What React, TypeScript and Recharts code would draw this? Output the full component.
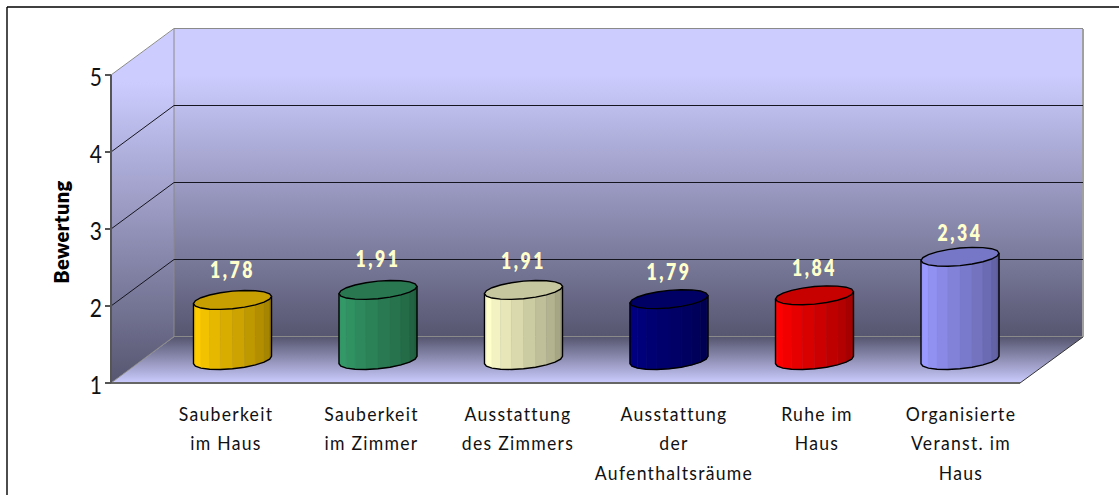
import React from "react";
import { BarChart, Bar, XAxis, YAxis, CartesianGrid, LabelList } from "recharts";

// Values
const CATEGORIES = [
  "Sauberkeit\nim Haus",
  "Sauberkeit\nim Zimmer",
  "Ausstattung\ndes Zimmers",
  "Ausstattung\nder\nAufenthaltsräume",
  "Ruhe im\nHaus",
  "Organisierte\nVeranst. im\nHaus",
];
const RATINGS = [1.78, 1.91, 1.91, 1.79, 1.84, 2.34];
const Y_TICKS = [1, 2, 3, 4, 5];

const BAR_COLORS = ["#ffcc00", "#339966", "#ffffcc", "#000080", "#ff0000", "#9999ff"];
const LABEL_LIFT = [30, 31, 29, 27, 27, 24];
// The original's wrapped labels are not evenly spaced
const TICK_NUDGE = [0, -1.5, -2, 7, 3, 0];

const chartData = CATEGORIES.map((name, i) => ({ name, rating: RATINGS[i] }));

const WIDTH = 1119;
const HEIGHT = 495;
const FONT = "Lato, sans-serif";
const PLOT = { left: 111, right: 1020, top: 75, bottom: 383 };
// Oblique projection of the chart's depth
const DEPTH = { dx: 63, dy: -46 };

function shade(hex: string, k: number): string {
  const n = parseInt(hex.slice(1), 16);
  const c = [(n >> 16) & 255, (n >> 8) & 255, n & 255].map((v) => Math.round(v * k));
  return `rgb(${c[0]},${c[1]},${c[2]})`;
}

/** Faceted cylinder, standing in the middle of the floor's depth */
function Cylinder(props: any) {
  const { x, y, width, height, index } = props;
  const color = BAR_COLORS[index];
  const cx = x + width / 2 + DEPTH.dx / 2;
  const topY = y + DEPTH.dy / 2;
  const baseY = topY + height;
  const B = 15;
  const C = 9.5;
  const A = Math.sqrt(Math.max(0, (width / 2) ** 2 - B * B));
  const t0 = Math.atan2(B, A);
  const at = (t: number, cy: number) => [
    cx + A * Math.cos(t) + B * Math.sin(t),
    cy - C * Math.sin(t),
  ];
  const STEPS = 10;
  const tAt = (i: number) => t0 + Math.PI + (i * Math.PI) / STEPS;

  const facets = [];
  const front: number[][] = [];
  for (let i = 0; i < STEPS; i++) {
    const a = tAt(i);
    const b = tAt(i + 1);
    const pts = [at(a, topY), at(b, topY), at(b, baseY), at(a, baseY)];
    // brightest just left of the middle of the lit side, then falling off
    const k = i < 2 ? 1 : 1 - (0.4 * (i - 1)) / (STEPS - 2);
    const fill = shade(color, k);
    facets.push(
      <polygon key={i} points={pts.map((p) => p.join(",")).join(" ")} fill={fill} stroke={fill} strokeWidth={0.5} />
    );
  }
  for (let i = 0; i <= STEPS; i++) front.push(at(tAt(i), baseY));
  const ring: number[][] = [];
  for (let i = 0; i < STEPS * 2; i++) ring.push(at(tAt(i), topY));
  const outline = [at(tAt(0), topY), ...front, at(tAt(STEPS), topY)];

  return (
    <g>
      {facets}
      <polyline
        points={outline.map((p) => p.join(",")).join(" ")}
        fill="none"
        stroke="#000"
        strokeWidth={1.4}
      />
      <polygon
        points={ring.map((p) => p.join(",")).join(" ")}
        fill={shade(color, 0.78)}
        stroke="#000"
        strokeWidth={1.4}
      />
    </g>
  );
}

// No narrow font installed, so the text is squeezed horizontally
function RatingLabel(props: any) {
  const { x, y, width, index, value } = props;
  const tx = x + width / 2 + DEPTH.dx / 2;
  const ty = y + DEPTH.dy / 2 - LABEL_LIFT[index];
  return (
    <text
      transform={`translate(${tx},${ty}) scale(0.8,1)`}
      dy="0.36em"
      textAnchor="middle"
      fontFamily={FONT}
      fontSize={22}
      fontWeight={800}
      letterSpacing={3.2}
      fill="#ffffcc"
    >
      {Number(value).toFixed(2).replace(".", ",")}
    </text>
  );
}

function CategoryTick(props: any) {
  const { x, index, payload } = props;
  const lines = String(payload.value).split("\n");
  return (
    <text
      transform={`translate(${x + TICK_NUDGE[index]},0) scale(0.88,1)`}
      textAnchor="middle"
      fontFamily={FONT}
      fontSize={20}
      letterSpacing={1.45}
      fill="#111"
    >
      {lines.map((line, i) => (
        <tspan key={i} x={0} y={421 + i * 29.5}>
          {line}
        </tspan>
      ))}
    </text>
  );
}

function ValueTick(props: any) {
  const { x, y, payload } = props;
  return (
    <text
      transform={`translate(${x - 1},${y + 2}) scale(0.84,1)`}
      dy="0.36em"
      textAnchor="end"
      fontFamily={FONT}
      fontSize={25}
      fill="#111"
    >
      {payload.value}
    </text>
  );
}

/** Grid line continuing from the side wall over the back wall */
function GridLine(props: any) {
  const { x1, x2, y1 } = props;
  const edge = Math.abs(y1 - PLOT.top) < 1 || Math.abs(y1 - PLOT.bottom) < 1;
  const bx = x1 + DEPTH.dx;
  const by = y1 + DEPTH.dy - 0.5;
  return (
    <polyline
      points={`${x1},${y1} ${bx},${by} ${x2 + DEPTH.dx},${by}`}
      fill="none"
      stroke={edge ? "#8a8a8a" : "#15151f"}
      strokeWidth={1}
    />
  );
}

function Backdrop() {
  const { left, right, top, bottom } = PLOT;
  const backL = left + DEPTH.dx;
  const backR = right + DEPTH.dx;
  const backT = top + DEPTH.dy;
  const backB = bottom + DEPTH.dy;
  return (
    <svg width={WIDTH} height={HEIGHT} style={{ position: "absolute", left: 0, top: 0 }}>
      <defs>
        <linearGradient id="wall" x1="0" y1="0" x2="0" y2="1">
          <stop offset="0" stopColor="#ccccff" />
          <stop offset="0.15" stopColor="#ccccff" />
          <stop offset="1" stopColor="#565670" />
        </linearGradient>
        <linearGradient id="floor" x1="0" y1="0" x2="0" y2="1">
          <stop offset="0" stopColor="#565670" />
          <stop offset="1" stopColor="#ccccff" />
        </linearGradient>
      </defs>
      <line x1={7} y1={7} x2={WIDTH} y2={7} stroke="#000" strokeWidth={1.4} />
      <line x1={7} y1={7} x2={7} y2={HEIGHT} stroke="#000" strokeWidth={1.4} />
      <polygon
        points={`${left},${top} ${backL},${backT} ${backL},${backB} ${left},${bottom}`}
        fill="url(#wall)"
      />
      <rect x={backL} y={backT} width={backR - backL} height={backB - backT} fill="url(#wall)" />
      <polygon
        points={`${left},${bottom} ${right},${bottom} ${backR},${backB} ${backL},${backB}`}
        fill="url(#floor)"
      />
      <line x1={backL} y1={backT} x2={backL} y2={backB} stroke="#8a8a8a" />
      <line x1={backR} y1={backT} x2={backR} y2={backB} stroke="#a0a0a0" strokeWidth={2} />
      <line x1={right} y1={bottom} x2={backR} y2={backB} stroke="#333" />
    </svg>
  );
}

export default function App() {
  return (
    <div style={{ position: "absolute", left: 0, top: 0, width: WIDTH, height: HEIGHT, overflow: "hidden" }}>
      <Backdrop />
      <div style={{ position: "absolute", left: 0, top: 0 }}>
        <BarChart
          width={WIDTH}
          height={HEIGHT}
          data={chartData}
          margin={{ top: PLOT.top, right: WIDTH - PLOT.right, bottom: HEIGHT - PLOT.bottom - 100, left: 41 }}
          barSize={78}
        >
          <CartesianGrid vertical={false} horizontal={GridLine as any} />
          <XAxis
            xAxisId="bars"
            dataKey="name"
            hide
            height={0}
            padding={{ left: 17, right: 19 }}
          />
          <XAxis
            xAxisId="labels"
            dataKey="name"
            height={100}
            interval={0}
            axisLine={{ stroke: "#666", strokeWidth: 2 }}
            tickLine={false}
            tick={<CategoryTick />}
            padding={{ left: 41.5, right: -14.5 }}
          />
          <YAxis
            domain={[1, 5]}
            ticks={Y_TICKS}
            width={70}
            tickSize={6}
            tickMargin={2}
            stroke="#555"
            strokeWidth={2}
            allowDataOverflow
            tick={<ValueTick />}
            label={{
              value: "Bewertung",
              angle: -90,
              position: "insideLeft",
              offset: 21,
              dy: 3,
              style: { fontFamily: FONT, fontSize: 20, fontWeight: 800, letterSpacing: 0.4, fill: "#000", textAnchor: "middle" },
            }}
          />
          <Bar
            dataKey="rating"
            xAxisId="bars"
            shape={<Cylinder />}
            isAnimationActive={false}
          >
            <LabelList dataKey="rating" content={<RatingLabel />} />
          </Bar>
        </BarChart>
      </div>
    </div>
  );
}
